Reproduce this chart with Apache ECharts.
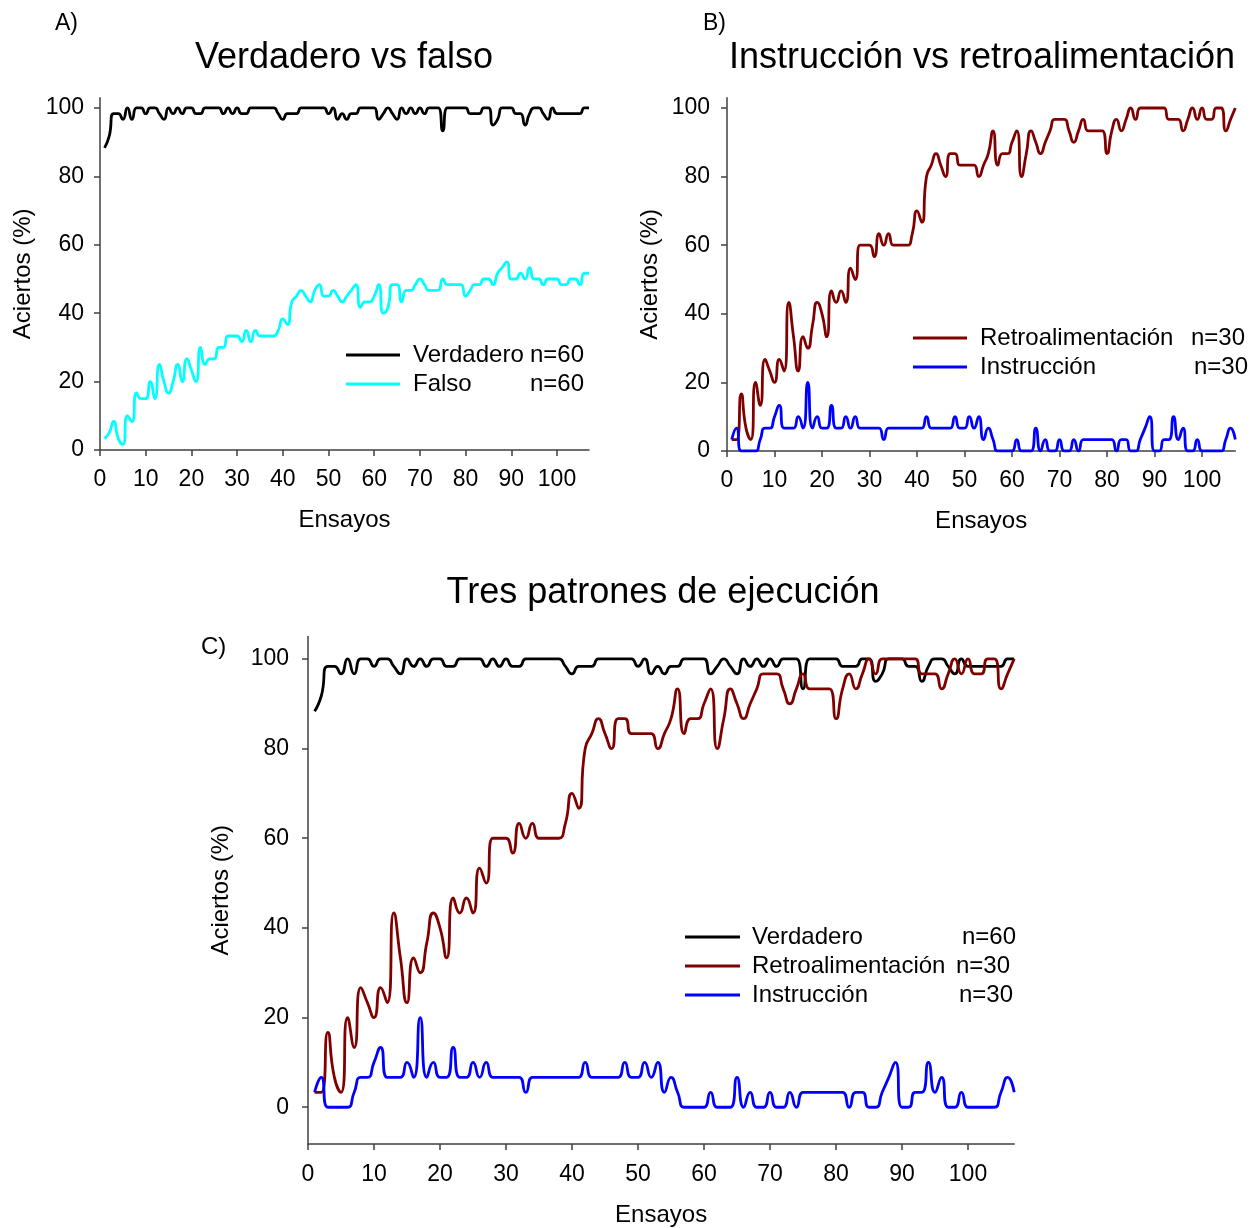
<!DOCTYPE html>
<html>
<head>
<meta charset="utf-8">
<script src="https://cdn.jsdelivr.net/npm/echarts@6/dist/echarts.min.js"></script>
<style>
  html, body { margin: 0; padding: 0; background: #ffffff; }
  #chart { width: 1257px; height: 1228px; }
</style>
</head>
<body>
<div id="chart"></div>
<script>
// Porcentaje de aciertos por ensayo (ensayos 1..107)
const verdadero = [
  88.33, 91.67, 98.33, 98.33, 96.67, 100, 96.67, 100, 100, 98.33,
  100, 100, 98.33, 96.67, 100, 98.33, 100, 98.33, 100, 100,
  98.33, 98.33, 100, 100, 100, 100, 98.33, 100, 98.33, 100,
  98.33, 98.33, 100, 100, 100, 100, 100, 100, 98.33, 96.67,
  98.33, 98.33, 98.33, 100, 100, 100, 100, 100, 100, 98.33,
  100, 96.67, 98.33, 96.67, 98.33, 98.33, 100, 100, 100, 100,
  96.67, 98.33, 100, 98.33, 96.67, 100, 98.33, 100, 98.33, 100,
  98.33, 100, 100, 100, 93.33, 100, 100, 100, 100, 100,
  98.33, 98.33, 98.33, 100, 100, 95, 96.67, 100, 100, 100,
  98.33, 98.33, 95, 98.33, 100, 100, 98.33, 96.67, 100, 98.33,
  98.33, 98.33, 98.33, 98.33, 98.33, 100, 100
];
const falso = [
  3.33, 5, 8.33, 3.33, 1.67, 10, 8.33, 16.67, 15, 15,
  20, 15, 25, 20, 16.67, 20, 25, 20, 26.67, 23.33,
  20, 30, 25, 26.67, 26.67, 30, 30, 33.33, 33.33, 33.33,
  31.67, 35, 31.67, 35, 33.33, 33.33, 33.33, 33.33, 35, 38.33,
  36.67, 43.33, 45, 46.67, 45, 43.33, 46.67, 48.33, 45, 45,
  46.67, 45, 43.33, 45, 46.67, 48.33, 41.67, 43.33, 43.33, 45,
  48.33, 40, 41.67, 48.33, 48.33, 43.33, 46.67, 46.67, 48.33, 50,
  48.33, 46.67, 46.67, 46.67, 50, 48.33, 48.33, 48.33, 48.33, 45,
  46.67, 48.33, 48.33, 50, 50, 48.33, 51.67, 53.33, 55, 50,
  50, 51.67, 50, 53.33, 50, 50, 48.33, 50, 50, 50,
  48.33, 48.33, 50, 50, 48.33, 51.67, 51.67
];
const retroalimentacion = [
  3.33, 3.33, 16.67, 6.67, 3.33, 20, 13.33, 26.67, 23.33, 20,
  26.67, 23.33, 43.33, 33.33, 23.33, 33.33, 30, 36.67, 43.33, 40,
  33.33, 46.67, 43.33, 46.67, 43.33, 53.33, 50, 60, 60, 60,
  56.67, 63.33, 60, 63.33, 60, 60, 60, 60, 63.33, 70,
  66.67, 80, 83.33, 86.67, 83.33, 80, 86.67, 86.67, 83.33, 83.33,
  83.33, 83.33, 80, 83.33, 86.67, 93.33, 83.33, 86.67, 86.67, 90,
  93.33, 80, 86.67, 93.33, 90, 86.67, 90, 93.33, 96.67, 96.67,
  96.67, 93.33, 90, 93.33, 96.67, 93.33, 93.33, 93.33, 93.33, 86.67,
  93.33, 96.67, 93.33, 96.67, 100, 96.67, 100, 100, 100, 100,
  100, 100, 96.67, 96.67, 96.67, 93.33, 96.67, 100, 96.67, 100,
  96.67, 96.67, 100, 100, 93.33, 96.67, 100
];
const instruccion = [
  3.33, 6.67, 0, 0, 0, 0, 3.33, 6.67, 6.67, 10,
  13.33, 6.67, 6.67, 6.67, 10, 6.67, 20, 6.67, 10, 6.67,
  6.67, 13.33, 6.67, 6.67, 10, 6.67, 10, 6.67, 6.67, 6.67,
  6.67, 6.67, 3.33, 6.67, 6.67, 6.67, 6.67, 6.67, 6.67, 6.67,
  6.67, 10, 6.67, 6.67, 6.67, 6.67, 6.67, 10, 6.67, 6.67,
  10, 6.67, 10, 3.33, 6.67, 3.33, 0, 0, 0, 0,
  3.33, 0, 0, 0, 6.67, 0, 3.33, 0, 0, 3.33,
  0, 0, 3.33, 0, 3.33, 3.33, 3.33, 3.33, 3.33, 3.33,
  3.33, 0, 3.33, 3.33, 0, 0, 3.33, 6.67, 10, 0,
  0, 3.33, 3.33, 10, 3.33, 6.67, 0, 0, 3.33, 0,
  0, 0, 0, 0, 3.33, 6.67, 3.33
];

// Etiquetas de los ejes
const xTicks = [0, 10, 20, 30, 40, 50, 60, 70, 80, 90, 100];
const yTicks = [0, 20, 40, 60, 80, 100];

const FONT = 'Liberation Sans, Arial, sans-serif';
const AXIS_COLOR = '#404040';
const LINE_W = 2.8;

// Convierte una serie en pares [ensayo, valor]
const pares = arr => arr.map((v, i) => [i + 1, v]);

function ejeX(gridIndex, nameGap, margin) {
  return {
    gridIndex, type: 'value', min: 0, max: 107,
    name: 'Ensayos', nameLocation: 'middle', nameGap,
    nameTextStyle: { fontSize: 24, fontFamily: FONT, color: '#000' },
    axisLine: { show: true, onZero: false, lineStyle: { color: AXIS_COLOR, width: 1.5 } },
    axisTick: { show: true, length: 6, customValues: xTicks, lineStyle: { color: AXIS_COLOR, width: 1.5 } },
    axisLabel: { customValues: xTicks, fontSize: 23, fontFamily: FONT, color: '#000', margin },
    splitLine: { show: false }
  };
}

function ejeY(gridIndex, min, max, nameGap, margin) {
  return {
    gridIndex, type: 'value', min, max,
    name: 'Aciertos (%)', nameLocation: 'middle', nameGap, nameRotate: 90,
    nameTextStyle: { fontSize: 24, fontFamily: FONT, color: '#000' },
    axisLine: { show: true, onZero: false, lineStyle: { color: AXIS_COLOR, width: 1.5 } },
    axisTick: { show: true, length: 6, customValues: yTicks, lineStyle: { color: AXIS_COLOR, width: 1.5 } },
    axisLabel: { customValues: yTicks, fontSize: 23, fontFamily: FONT, color: '#000', margin },
    splitLine: { show: false }
  };
}

function serie(name, data, color, xi) {
  return {
    name, type: 'line', xAxisIndex: xi, yAxisIndex: xi,
    data: pares(data), smooth: 0.6, showSymbol: false, symbol: 'none',
    lineStyle: { color, width: LINE_W }, itemStyle: { color },
    emphasis: { disabled: true }, animation: false
  };
}

function texto(x, y, text, size, align) {
  return {
    type: 'text', x, y, silent: true,
    style: { text, fontSize: size, fontFamily: FONT, fill: '#000', align: align || 'left', verticalAlign: 'middle' }
  };
}

function linea(x1, x2, y, color) {
  return {
    type: 'line', silent: true,
    shape: { x1, y1: y, x2, y2: y },
    style: { stroke: color, lineWidth: LINE_W }
  };
}

const chart = echarts.init(document.getElementById('chart'), null, { renderer: 'canvas' });

chart.setOption({
  backgroundColor: '#ffffff',
  animation: false,
  grid: [
    { left: 100, top: 97.7, width: 489, height: 352.3 },
    { left: 727, top: 97.7, width: 508.3, height: 353.3 },
    { left: 308, top: 636.5, width: 706.2, height: 508.6 }
  ],
  xAxis: [ejeX(0, 58, 18), ejeX(1, 58, 18), ejeX(2, 59, 19)],
  yAxis: [ejeY(0, 0, 103, 65, 16), ejeY(1, 0, 103, 65, 17), ejeY(2, -8.2, 105, 75, 19)],
  series: [
    serie('Verdadero', verdadero, '#000000', 0),
    serie('Falso', falso, '#00ffff', 0),
    serie('Retroalimentación', retroalimentacion, '#800000', 1),
    serie('Instrucción', instruccion, '#0000ff', 1),
    serie('Verdadero', verdadero, '#000000', 2),
    serie('Retroalimentación', retroalimentacion, '#800000', 2),
    serie('Instrucción', instruccion, '#0000ff', 2)
  ],
  graphic: [
    // Títulos y letras de los paneles
    texto(344, 58, 'Verdadero vs falso', 36, 'center'),
    texto(982, 58, 'Instrucción vs retroalimentación', 36, 'center'),
    texto(663, 593, 'Tres patrones de ejecución', 36, 'center'),
    texto(55, 24, 'A)', 23),
    texto(703, 24, 'B)', 23),
    texto(201, 647, 'C)', 24),

    // Leyenda A
    linea(346, 400, 355, '#000000'),
    linea(346, 400, 384, '#00ffff'),
    texto(413, 355, 'Verdadero', 24),
    texto(584, 355, 'n=60', 24, 'right'),
    texto(413, 384, 'Falso', 24),
    texto(584, 384, 'n=60', 24, 'right'),

    // Leyenda B
    linea(913, 967, 338, '#800000'),
    linea(913, 967, 367, '#0000ff'),
    texto(980, 338, 'Retroalimentación', 24),
    texto(1245, 338, 'n=30', 24, 'right'),
    texto(980, 367, 'Instrucción', 24),
    texto(1248, 367, 'n=30', 24, 'right'),

    // Leyenda C
    linea(685, 740, 937, '#000000'),
    linea(685, 740, 966, '#800000'),
    linea(685, 740, 995, '#0000ff'),
    texto(752, 937, 'Verdadero', 24),
    texto(1016, 937, 'n=60', 24, 'right'),
    texto(752, 966, 'Retroalimentación', 24),
    texto(1010, 966, 'n=30', 24, 'right'),
    texto(752, 995, 'Instrucción', 24),
    texto(1013, 995, 'n=30', 24, 'right')
  ]
});
</script>
</body>
</html>
